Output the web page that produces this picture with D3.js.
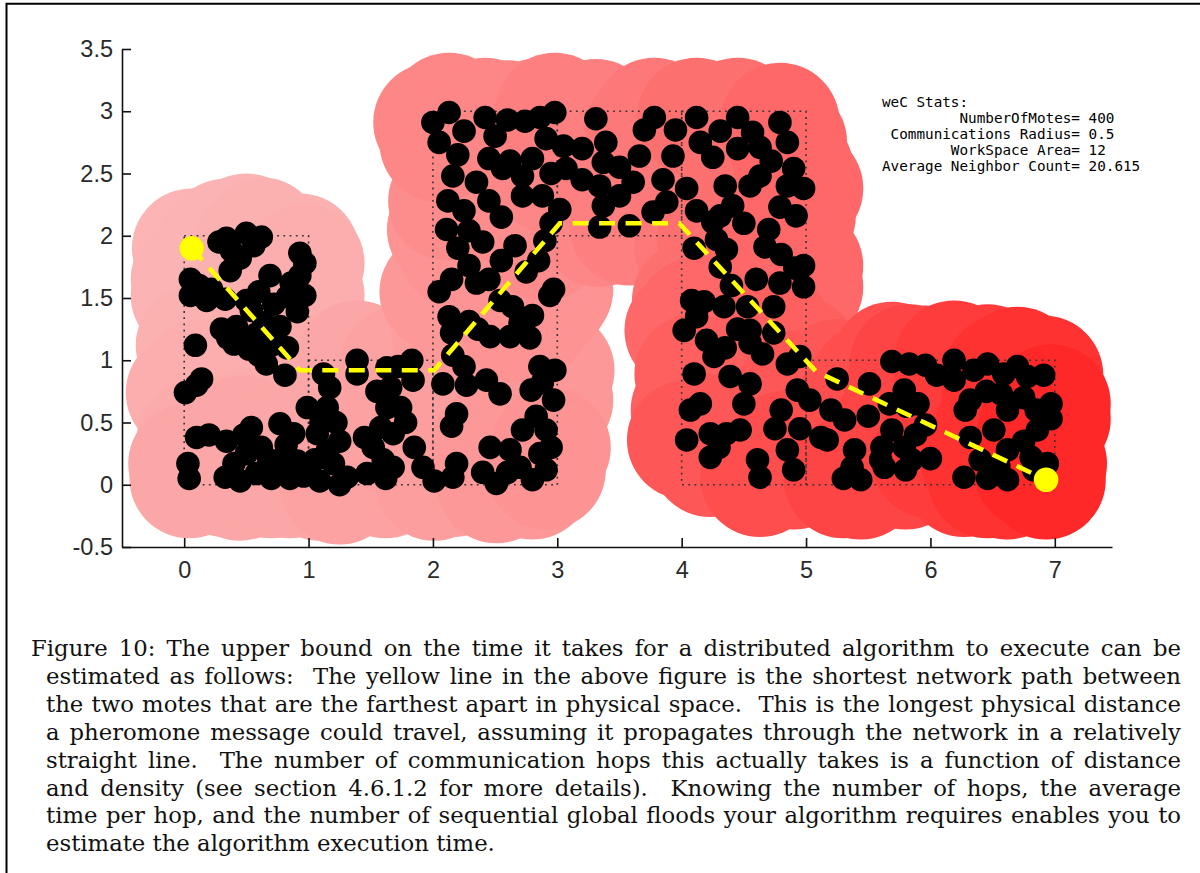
<!DOCTYPE html>
<html>
<head>
<meta charset="utf-8">
<script src="https://cdn.jsdelivr.net/npm/d3@7"></script>
<style>
  body { margin: 0; background: #fff; }
  svg { display: block; }
</style>
</head>
<body>
<svg id="fig" width="1200" height="873"></svg>
<script>
// ---- mote positions (workspace units), grouped by workspace block ----
const leftBlockMotes = [
  [0.06,1.90],
  [0.34,1.98],[0.50,2.02],[0.62,1.99],[0.38,1.88],[0.93,1.86],[0.93,1.68],[0.97,1.52],[0.91,1.39],
  [0.69,1.68],[0.83,1.51],[0.05,1.65],[0.05,1.52],[0.18,1.48],[0.33,1.49],[0.37,1.72],[0.50,1.48],
  [0.54,1.40],[0.30,1.25],[0.42,1.27],[0.40,1.13],[0.52,1.09],[0.66,0.97],[0.81,0.88],[0.77,1.27],
  [0.83,1.10],[0.58,1.21],[0.09,1.12],[0.01,0.74],[0.14,0.85],[0.10,0.38],[0.34,0.35],[0.03,0.17],
  [0.04,0.05],[0.54,0.46],[0.77,0.49],[0.88,0.41],[0.40,0.17],[0.45,0.03],[0.58,0.09],[0.75,0.19],
  [0.91,0.19],[0.96,0.07],
  [0.28,1.95],[0.56,1.92],[0.45,1.82],[0.22,1.57],[0.12,1.60],[0.60,1.55],[0.72,1.45],[0.86,1.62],
  [0.97,1.78],[0.64,1.30],[0.70,1.12],[0.47,1.18],[0.35,1.18],[0.60,1.04],[0.10,0.80],[0.48,0.40],
  [0.62,0.30],[0.68,0.20],[0.82,0.32],[0.50,0.25],[0.33,0.06],[0.70,0.05],[0.85,0.05],[0.20,0.40]
];
const bridgeMotes = [
  [1.09,0.03],[1.20,0.17],[1.15,0.27],[1.07,0.41],[0.99,0.62],[1.15,0.62],[1.17,0.78],[1.12,0.89],
  [1.39,1.00],[1.39,0.89],[1.63,0.94],[1.83,1.00],[1.66,0.78],[1.63,0.62],[1.58,0.46],[1.52,0.30],
  [1.68,0.41],[1.74,0.62],[1.84,0.84],[1.47,0.09],[1.68,0.14],[1.92,0.14],[2.01,0.03],[1.31,0.06],
  [1.05,0.20],[1.25,0.35],[1.10,0.50],[1.22,0.50],[1.25,0.00],[1.60,0.20],[1.55,0.75],[1.72,0.95],
  [1.78,0.50],[1.62,0.05],[1.85,0.30],[1.45,0.38]
];
const centerLowerMotes = [
  [2.13,1.35],[2.15,1.22],[2.29,1.31],[2.54,1.48],[2.64,1.43],[2.80,1.36],[2.46,1.19],[2.62,1.19],
  [2.78,1.18],[2.94,1.52],[2.16,1.04],[2.08,0.81],[2.27,0.80],[2.43,0.84],[2.54,0.73],[2.19,0.57],
  [2.15,0.47],[2.86,0.95],[2.98,0.92],[2.79,0.76],[2.97,0.68],[2.83,0.55],[2.72,0.44],[2.91,0.44],
  [2.46,0.30],[2.62,0.28],[2.86,0.25],[2.91,0.12],[2.70,0.14],[2.51,0.01],[2.80,0.04],[2.16,0.06],
  [2.19,0.17],
  [2.40,0.10],[2.60,0.10],[2.95,0.30],[2.25,0.95],[2.88,0.82],[2.36,1.25],[2.70,1.30]
];
const upperMotes = [
  [2.00,2.91],[2.13,2.99],[2.25,2.84],[2.50,2.80],[2.74,2.92],[2.86,2.95],[2.98,2.99],[2.91,2.78],
  [3.05,2.72],[3.31,2.94],[3.78,2.95],[4.12,2.95],[4.31,2.84],[4.57,2.83],[4.79,2.91],[4.63,2.71],
  [4.25,2.63],[2.62,2.60],[2.16,2.48],[2.35,2.43],[2.56,2.54],[2.12,2.28],[2.72,2.32],[2.88,2.32],
  [3.02,2.21],[3.07,2.54],[3.39,2.75],[3.37,2.59],[3.34,2.40],[3.37,2.24],[3.66,2.64],[3.61,2.43],
  [3.93,2.64],[4.04,2.38],[3.88,2.27],[3.77,2.19],[4.35,2.40],[4.41,2.24],[4.31,2.16],[4.63,2.48],
  [4.90,2.54],[4.98,2.38],[4.92,2.16],[4.79,2.23],[4.25,2.11],[2.11,2.05],[2.29,2.04],[2.29,1.76],
  [2.15,1.65],[2.35,1.62],[2.66,1.92],[2.90,1.96],[2.75,1.71],[2.97,1.57],[3.34,2.07],[3.58,2.08],
  [4.98,1.76],
  [2.05,2.75],[2.20,2.65],[2.42,2.95],[2.60,2.93],[2.45,2.62],[2.80,2.62],[2.95,2.50],[2.72,2.48],
  [2.45,2.28],[2.55,2.15],[2.25,2.20],[3.20,2.45],[3.20,2.70],[3.50,2.55],[3.50,2.32],[3.70,2.85],
  [3.95,2.85],[3.85,2.45],[4.15,2.75],[4.45,2.70],[4.72,2.60],[4.85,2.75],[4.45,2.95],[4.55,2.40],
  [4.50,2.10],[4.70,2.05],[4.85,2.40],[4.12,2.20],[2.40,1.95],[2.55,1.80],[2.85,1.80],[2.45,1.65],
  [2.95,2.10],[2.20,1.90],[2.05,1.55]
];
const rightColumnMotes = [
  [4.28,1.97],[4.36,1.89],[4.67,1.91],[4.31,1.75],[4.91,1.74],[4.79,1.62],[4.98,1.59],[4.74,1.43],
  [4.18,1.47],[4.34,1.43],[4.02,1.24],[4.20,1.16],[4.26,1.03],[4.53,1.43],[4.55,1.24],[4.55,1.14],
  [4.74,1.22],[4.85,0.97],[4.95,1.03],[4.10,0.89],[4.39,0.87],[4.55,0.81],[4.93,0.76],[5.03,0.68],
  [4.50,0.65],[4.07,0.60],[4.15,0.65],[4.04,0.36],[4.23,0.41],[4.36,0.41],[4.47,0.44],[4.23,0.22],
  [4.61,0.20],[4.63,0.06],[4.85,0.28],[4.90,0.12],[4.08,1.48],
  [4.12,1.35],[4.40,1.60],[4.60,1.65],[4.45,1.25],[4.65,1.05],[4.35,1.10],[4.30,0.30],[4.75,0.45],
  [4.80,0.60],[4.95,0.45],[4.10,1.90],[4.80,1.85]
];
const tailMotes = [
  [5.12,0.38],[5.81,0.63],[5.60,0.20],
  [5.69,0.99],[5.83,0.97],[5.96,0.96],[6.19,1.00],[6.19,0.84],[6.46,0.97],[6.59,0.89],[6.78,0.87],
  [6.91,0.88],[5.51,0.81],[5.79,0.76],[5.67,0.65],[5.90,0.65],[5.96,0.48],[6.32,0.68],[6.28,0.60],
  [6.57,0.73],[6.62,0.60],[6.97,0.65],[6.97,0.53],[6.86,0.44],[5.20,0.60],[5.31,0.52],[5.17,0.36],
  [5.69,0.44],[5.61,0.30],[5.79,0.30],[5.63,0.14],[5.80,0.12],[5.39,0.28],[5.37,0.14],[5.44,0.04],
  [6.00,0.21],[6.32,0.38],[6.51,0.44],[6.62,0.28],[6.81,0.22],[6.94,0.17],[6.27,0.06],[6.46,0.05],
  [6.62,0.04],[6.83,0.12],
  [5.25,0.85],[6.05,0.88],[6.35,0.92],[6.70,0.95],[6.45,0.75],[6.75,0.70],[6.85,0.60],[5.88,0.40],
  [6.40,0.20],[6.75,0.35],[6.55,0.15],[5.50,0.55],[5.85,0.20],[5.30,0.05],
  [6.93,0.04]
];

// workspace blocks [x0, y0, x1, y1]
const workspaceRects = [
  [0,0,1,2],[1,0,2,1],[2,0,3,3],[3,2,4,3],[4,0,5,3],[5,0,7,1]
];

// shortest network path between the two farthest motes
const pathNodes = [
  [0.06,1.90],[0.93,0.92],[2.01,0.92],[3.02,2.10],[3.98,2.10],[5.08,0.91],[6.93,0.04]
];

const commRadius = 0.5;
const xTicks = [0,1,2,3,4,5,6,7];
const yTicks = [-0.5,0,0.5,1,1.5,2,2.5,3,3.5];

const statsLines = [
  "weC Stats:",
  "         NumberOfMotes= 400",
  " Communications Radius= 0.5",
  "        WorkSpace Area= 12",
  "Average Neighbor Count= 20.615"
];

const captionLines = [
  "Figure 10: The upper bound on the time it takes for a distributed algorithm to execute can be",
  "estimated as follows:  The yellow line in the above figure is the shortest network path between",
  "the two motes that are the farthest apart in physical space.  This is the longest physical distance",
  "a pheromone message could travel, assuming it propagates through the network in a relatively",
  "straight line.  The number of communication hops this actually takes is a function of distance",
  "and density (see section 4.6.1.2 for more details).  Knowing the number of hops, the average",
  "time per hop, and the number of sequential global floods your algorithm requires enables you to",
  "estimate the algorithm execution time."
];

// ---------------------------------------------------------------------
const svg = d3.select("#fig");
const x = d3.scaleLinear().domain([-0.5, 7.46]).range([122, 1112]);
const y = d3.scaleLinear().domain([-0.5, 3.5]).range([547, 49]);
const unitPx = x(1) - x(0);

// page frame
svg.append("path")
  .attr("d", "M6.5,873V3.8H1200")
  .attr("fill", "none").attr("stroke", "#000").attr("stroke-width", 2);

const motes = [].concat(leftBlockMotes, bridgeMotes, centerLowerMotes,
                        upperMotes, rightColumnMotes, tailMotes);

// hop count from the source mote (breadth-first over the radio graph)
const src = d3.minIndex(motes, m => Math.hypot(m[0]-pathNodes[0][0], m[1]-pathNodes[0][1]));
const hops = new Array(motes.length).fill(Infinity);
hops[src] = 0;
const queue = [src];
while (queue.length) {
  const i = queue.shift();
  motes.forEach((m, j) => {
    if (hops[j] === Infinity &&
        Math.hypot(m[0]-motes[i][0], m[1]-motes[i][1]) <= commRadius) {
      hops[j] = hops[i] + 1;
      queue.push(j);
    }
  });
}
const maxHop = d3.max(hops.filter(isFinite));
const hopColor = d3.scalePow().exponent(1.6).domain([0, maxHop])
  .range(["#fcb4b4", "#ff2828"]).interpolate(d3.interpolateRgb);

const order = d3.range(motes.length).sort((a, b) => (hops[a] - hops[b]) || (a - b));

// radio coverage around each mote
svg.append("g").selectAll("circle")
  .data(order).join("circle")
  .attr("cx", i => x(motes[i][0]))
  .attr("cy", i => y(motes[i][1]))
  .attr("r", 0.48 * unitPx)
  .attr("fill", i => hopColor(isFinite(hops[i]) ? hops[i] : maxHop));

// workspace outline
svg.append("g").selectAll("rect")
  .data(workspaceRects).join("rect")
  .attr("x", d => x(d[0])).attr("y", d => y(d[3]))
  .attr("width", d => x(d[2]) - x(d[0]))
  .attr("height", d => y(d[1]) - y(d[3]))
  .attr("fill", "none").attr("stroke", "#333")
  .attr("stroke-width", 1.6).attr("stroke-dasharray", "1.8 4.4");

// motes
svg.append("g").selectAll("circle")
  .data(motes).join("circle")
  .attr("cx", d => x(d[0])).attr("cy", d => y(d[1]))
  .attr("r", 11.8).attr("fill", "#000");

// shortest path
svg.append("path")
  .datum(pathNodes)
  .attr("d", d3.line().x(d => x(d[0])).y(d => y(d[1])))
  .attr("fill", "none").attr("stroke", "#ffff00")
  .attr("stroke-width", 4.6).attr("stroke-dasharray", "16 10.5");

svg.append("g").selectAll("circle")
  .data([pathNodes[0], pathNodes[pathNodes.length - 1]]).join("circle")
  .attr("cx", d => x(d[0])).attr("cy", d => y(d[1]))
  .attr("r", 12.3).attr("fill", "#ffff00");

// axes
const gx = svg.append("g")
  .attr("transform", `translate(0,${y(-0.5)})`)
  .call(d3.axisBottom(x).tickValues(xTicks).tickSize(-9).tickSizeOuter(0)
        .tickPadding(14).tickFormat(d => String(d)));
const gy = svg.append("g")
  .attr("transform", `translate(${x(-0.5)},0)`)
  .call(d3.axisLeft(y).tickValues(yTicks).tickSize(-9).tickSizeOuter(0)
        .tickPadding(9).tickFormat(d => String(d)));
[gx, gy].forEach(g => {
  g.attr("font-family", "'Liberation Sans', Arial, sans-serif").attr("font-size", 23.5);
  g.selectAll(".domain").attr("stroke", "#111").attr("stroke-width", 1.6);
  g.selectAll(".tick line").attr("stroke", "#111").attr("stroke-width", 1.6);
  g.selectAll(".tick text").attr("fill", "#2a2a2a");
});

// network statistics box
svg.append("g")
  .attr("font-family", "'DejaVu Sans Mono', monospace")
  .attr("font-size", 14.3)
  .selectAll("text").data(statsLines).join("text")
  .attr("x", 882).attr("y", (d, i) => 107 + i * 16)
  .style("white-space", "pre")
  .text(d => d);

// justified caption (glyphs narrowed horizontally to the column)
const capFs = 23;
const cap = svg.append("g")
  .attr("font-family", "'DejaVu Serif', serif")
  .attr("font-size", capFs)
  .attr("fill", "#111");
const measure = s => {
  const t = cap.append("text").style("white-space", "pre").text(s);
  const w = t.node().getComputedTextLength();
  t.remove();
  return w;
};
const sx = 449 / measure(captionLines[captionLines.length - 1]);
const right = 1181;
captionLines.forEach((line, i) => {
  const x0 = i === 0 ? 31 : 46;
  const yb = 656 + i * 27.9;
  const lineG = cap.append("g").attr("transform", `translate(${x0},${yb}) scale(${sx},1)`);
  if (i === captionLines.length - 1) {
    lineG.append("text").style("white-space", "pre").text(line);
    return;
  }
  const words = line.split(/ +/);
  const gaps = line.match(/ +/g).map(s => s.length);
  const widths = words.map(w => measure(w));
  const avail = (right - x0) / sx;
  const gapW = (avail - d3.sum(widths)) / d3.sum(gaps);
  const t = lineG.append("text");
  let cx = 0;
  words.forEach((w, k) => {
    t.append("tspan").attr("x", cx).text(w);
    cx += widths[k] + (k < gaps.length ? gaps[k] * gapW : 0);
  });
});
</script>
</body>
</html>
